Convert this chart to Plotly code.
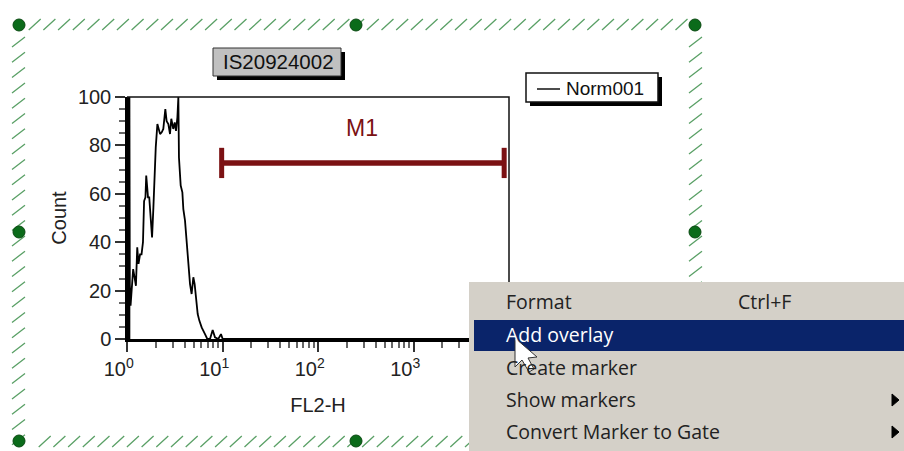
import plotly.graph_objects as go

W, H = 904, 451
L, R, T, B = 127, 509, 97, 339

# ---- data ----
fl2_h = [1.00, 1.00, 1.015, 1.015, 1.03, 1.03, 1.045, 1.045, 1.06, 1.06, 1.07, 1.09, 1.13, 1.16, 1.20, 1.24,
         1.28, 1.32, 1.37, 1.42, 1.47, 1.51, 1.56, 1.59, 1.66, 1.71, 1.77, 1.83, 1.89, 1.93, 2.00, 2.08, 2.15,
         2.22, 2.31, 2.40, 2.52, 2.60, 2.71, 2.82, 2.91, 3.05, 3.16, 3.26, 3.37, 3.45, 3.50, 3.65, 3.80, 3.89,
         4.05, 4.22, 4.42, 4.57, 4.75, 4.95, 5.11, 5.28, 5.50, 5.72, 6.05, 6.56, 6.93, 7.40, 7.89, 8.34, 9.04,
         9.64, 10.04, 10000]
count = [0, 100, 100, 0, 0, 100, 100, 0, 0, 100, 22.7, 13.8, 21.4, 28.9, 25.5, 22, 37.9,
         31, 35, 35, 40, 57, 58.5, 67.5, 58.5, 58.5, 50, 42, 54.4, 67.5, 79.2, 88.8, 86,
         84.7, 85.4, 86.8, 95, 90, 88.8, 84.7, 91, 86.8, 89.5, 86, 91.6, 100, 75, 63.4, 60.6, 53.7,
         48.9, 38.6, 29.6, 22.7, 18.6, 25.5, 22.7, 15.8, 10.3, 7.6, 4.8, 2, 0, 0, 3.7, 0.7, 0,
         2, 0, 0]
marker_x = [9.8, 8900]
marker_y = [72.7, 72.7]
marker_cap = [66.5, 79]
x_ticks = [1, 10, 100, 1000, 10000]
x_minor = [m * d for d in (1, 10, 100, 1000) for m in (2, 3, 4, 5, 6, 7, 8, 9)]
# the 10^4 label sits behind the context menu in the reference, so it is left blank
x_labels = ["10<sup>%d</sup>\u00a0\u00a0\u00a0" % i for i in range(4)] + [""]
y_ticks = [0, 20, 40, 60, 80, 100]
y_minor = [5, 10, 15, 25, 30, 35, 45, 50, 55, 65, 70, 75, 85, 90, 95]
series_name = "Norm001"
gate_name = "M1"
title_text = "IS20924002"
menu_items = ["Format", "Add overlay", "Create marker", "Show markers", "Convert Marker to Gate"]

DARK = "#7b1113"
FONT = "Liberation Sans"
MENU_FONT = "Open Sans"


def px(x):
    return (x - L) / (R - L)


def py(y):
    return (B - y) / (B - T)


def rect(x0, y0, x1, y1, fill, line=None, lw=0):
    return dict(type="rect", xref="paper", yref="paper", x0=px(x0), x1=px(x1), y0=py(y0), y1=py(y1),
                fillcolor=fill, line=dict(color=line or fill, width=lw), layer="above")


def path(points, fill=None, line="#000", lw=1, close=False):
    d = "M" + " L".join(f"{px(a):.5f},{py(b):.5f}" for a, b in points) + (" Z" if close else "")
    return dict(type="path", xref="paper", yref="paper", path=d, fillcolor=fill or "rgba(0,0,0,0)",
                line=dict(color=line, width=lw), layer="above")


def label(text, x, y, size=19, color="#111", anchor="left", font=FONT):
    return dict(text=text, xref="paper", yref="paper", x=px(x), y=py(y), showarrow=False, xanchor=anchor,
                yanchor="middle", font=dict(family=font, size=size, color=color), borderpad=0, borderwidth=0)


fig = go.Figure()
fig.add_trace(go.Scatter(x=fl2_h, y=count, mode="lines", name=series_name,
                         line=dict(color="#000", width=1.8), showlegend=False, hoverinfo="skip"))
fig.add_trace(go.Scatter(x=marker_x, y=marker_y, mode="lines", name=gate_name,
                         line=dict(color=DARK, width=5.5), showlegend=False, hoverinfo="skip"))
for xv in marker_x:
    fig.add_trace(go.Scatter(x=[xv, xv], y=marker_cap, mode="lines", line=dict(color=DARK, width=5),
                             showlegend=False, hoverinfo="skip"))

shapes = []
# hatched selection frame
HATCH = "#5aa066"
d = ""
def hseg(x0, y0, x1, y1):
    return f"M{px(x0):.5f},{py(y0):.5f} L{px(x1):.5f},{py(y1):.5f} "
x = 28.7
while x < 690:
    d += hseg(x, 30, x + 12, 19)
    d += hseg(x + 10, 447, x + 22, 436)
    x += 14.7
y = 37
while y < 435:
    d += hseg(12, y + 10, 25, y)
    d += hseg(689, y + 10, 702, y)
    y += 15.3
shapes.append(dict(type="path", xref="paper", yref="paper", path=d, line=dict(color=HATCH, width=1.3), layer="above"))
for cx, cy in [(19, 25), (356, 25), (695, 25), (19, 232), (695, 232), (19, 441), (356, 441)]:
    shapes.append(dict(type="circle", xref="paper", yref="paper", x0=px(cx - 6), x1=px(cx + 6), y0=py(cy + 6),
                       y1=py(cy - 6), fillcolor="#0b6b1a", line=dict(color="#0a4a12", width=1), layer="above"))
# plot frame (top, right)
shapes.append(path([(L, T), (R, T), (R, B)], lw=1.5, line="#111"))
# title box
shapes.append(rect(217, 52, 345, 80, "#000"))
shapes.append(rect(213, 48, 341, 76, "#c0c0c0", "#333", 1))
# legend box
shapes.append(rect(530, 77, 662, 106, "#000"))
shapes.append(rect(526, 73, 658, 102, "#fff", "#111", 1.5))
shapes.append(path([(537, 89), (560, 89)], lw=1.5, line="#111"))
# context menu
shapes.append(rect(469, 282, 904, 451, "#d4d0c8"))
shapes.append(rect(474, 320, 904, 351, "#0a246a"))
for ay in (400, 432):
    shapes.append(path([(892, ay - 6), (899, ay), (892, ay + 6)], fill="#000", line="#000", lw=1, close=True))
# mouse pointer
shapes.append(path([(515, 338), (515, 367), (522, 360), (529, 372), (534, 369), (528, 358), (537, 357)],
                   fill="#fff", line="#333", lw=1, close=True))

ann = [
    label(title_text, 278, 62, 20.5, anchor="center"),
    label(series_name, 566, 88, 19),
    label(gate_name, 362, 128, 23, DARK, "center"),
    label(menu_items[0], 506, 301, 19.5, "#222", font=MENU_FONT),
    label("Ctrl+F", 738, 301, 19.5, "#222", font=MENU_FONT),
    label(menu_items[1], 506, 334, 19.5, "#fff", font=MENU_FONT),
    label(menu_items[2], 506, 367, 19.5, "#222", font=MENU_FONT),
    label(menu_items[3], 506, 399, 19.5, "#222", font=MENU_FONT),
    label(menu_items[4], 506, 431, 19.5, "#222", font=MENU_FONT),
]

fig.update_layout(
    width=W, height=H, autosize=False,
    margin=dict(l=L, r=W - R, t=T, b=H - B, pad=0),
    paper_bgcolor="#fff", plot_bgcolor="#fff", showlegend=False,
    shapes=shapes, annotations=ann,
    font=dict(family=FONT, size=20, color="#222"),
)
fig.update_xaxes(type="log", range=[0, 4], tickmode="array", tickvals=x_ticks, ticktext=x_labels,
                 ticks="outside", ticklen=10, tickwidth=2, tickcolor="#333", showgrid=False, zeroline=False,
                 showline=True, linecolor="#000", linewidth=3, tickangle=0,
                 minor=dict(tickmode="array", tickvals=x_minor, ticks="outside", ticklen=6, tickwidth=1.5,
                            tickcolor="#666", showgrid=False),
                 title=dict(text="FL2-H", standoff=19, font=dict(size=20)))
fig.update_yaxes(range=[0, 100], tickmode="array", tickvals=y_ticks, ticks="outside", ticklen=10, tickwidth=2,
                 tickcolor="#333",
                 showgrid=False, zeroline=False, showline=True, linecolor="#000", linewidth=1.5,
                 minor=dict(tickmode="array", tickvals=y_minor, ticks="outside", ticklen=6, tickwidth=1.5,
                            tickcolor="#666", showgrid=False),
                 title=dict(text="Count", standoff=6, font=dict(size=20)))

fig.write_html("out.html", config=dict(displayModeBar=False),
               post_script="document.body.style.margin='0';document.body.style.overflow='hidden';")
